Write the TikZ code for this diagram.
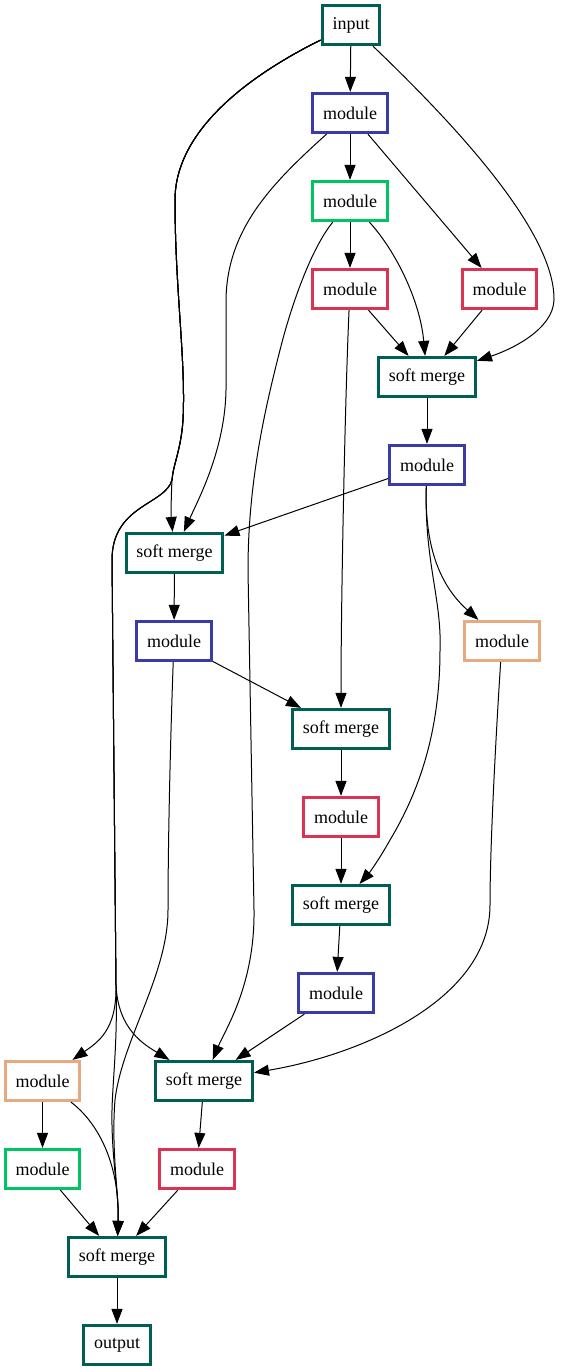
\documentclass[tikz,border=0pt]{standalone}
\usepackage{fontspec}
\setmainfont{Liberation Serif}
\usetikzlibrary{arrows.meta}
\definecolor{cteal}{HTML}{005F52}
\definecolor{cblue}{HTML}{3B3BA8}
\definecolor{cgreen}{HTML}{00C462}
\definecolor{cred}{HTML}{DC3355}
\definecolor{corange}{HTML}{E5AA82}
\begin{document}
\begin{tikzpicture}[x=1pt,y=-1pt,
  box/.style={draw, line width=3.2pt, fill=white, minimum height=39pt, inner xsep=10.3pt, inner ysep=0pt, font=\fontsize{18}{20}\selectfont},
  tealbox/.style={box, draw=cteal},
  bluebox/.style={box, draw=cblue},
  greenbox/.style={box, draw=cgreen},
  redbox/.style={box, draw=cred},
  orangebox/.style={box, draw=corange},
  conn/.style={-{Triangle[length=15pt,width=11pt]}, line width=1pt}]
\useasboundingbox (0,0) rectangle (561,1371);
\node[tealbox] (in) at (351,25) {input};
\node[bluebox] (m1) at (350,113) {module};
\node[greenbox] (m2) at (350,201) {module};
\node[redbox] (m3) at (350,289) {module};
\node[redbox] (m4) at (499.5,289) {module};
\node[tealbox] (s1) at (427,377) {soft merge};
\node[bluebox] (m5) at (427,465) {module};
\node[tealbox] (s2) at (174.5,553) {soft merge};
\node[bluebox] (m6) at (174,641) {module};
\node[orangebox] (m7) at (502,641) {module};
\node[tealbox] (s3) at (341,729) {soft merge};
\node[redbox] (m8) at (341,817) {module};
\node[tealbox] (s4) at (341,905) {soft merge};
\node[bluebox] (m9) at (336,993) {module};
\node[orangebox] (m10) at (42.5,1081) {module};
\node[tealbox] (s5) at (204,1081) {soft merge};
\node[greenbox] (m11) at (42.5,1169) {module};
\node[redbox] (m12) at (197,1169) {module};
\node[tealbox] (s6) at (117,1257) {soft merge};
\node[tealbox] (out) at (117,1345) {output};

\draw[conn] (in) -- (m1);
\draw[conn] (in) .. controls (250,75) and (175,130) .. (175,200) .. controls (175,290) and (186,360) .. (183,420) .. controls (181,450) and (173,465) .. (172,480) .. controls (171,500) and (171,515) .. (s2);
\draw[conn] (in) .. controls (250,75) and (175,130) .. (175,200) .. controls (175,290) and (186,360) .. (183,420) .. controls (181,450) and (173,465) .. (172,480) .. controls (165,505) and (112,505) .. (112,560) -- (116,985) .. controls (117,1030) and (98,1042) .. (m10);
\draw[conn] (in) .. controls (250,75) and (175,130) .. (175,200) .. controls (175,290) and (186,360) .. (183,420) .. controls (181,450) and (173,465) .. (172,480) .. controls (165,505) and (112,505) .. (112,560) -- (116,985) .. controls (118,1030) and (145,1045) .. (s5);
\draw[conn] (in) .. controls (250,75) and (175,130) .. (175,200) .. controls (175,290) and (186,360) .. (183,420) .. controls (181,450) and (173,465) .. (172,480) .. controls (165,505) and (112,505) .. (112,560) -- (116,985) .. controls (118,1050) and (111,1090) .. (112,1125) .. controls (113,1170) and (119,1195) .. (s6);
\draw[conn] (in) .. controls (450,120) and (555,230) .. (554,300) .. controls (553,330) and (510,350) .. (s1);

\draw[conn] (m1) -- (m2);
\draw[conn] (m1) -- (m4);
\draw[conn] (m1) .. controls (270,185) and (227,230) .. (226,300) -- (226,390) .. controls (225,450) and (198,500) .. (s2);

\draw[conn] (m2) -- (m3);
\draw[conn] (m2) .. controls (395,250) and (420,300) .. (s1);
\draw[conn] (m2) .. controls (310,250) and (290,310) .. (280,350) .. controls (266,405) and (248,480) .. (248,570) -- (254,910) .. controls (255,985) and (225,1030) .. (s5);

\draw[conn] (m3) -- (s1);
\draw[conn] (m3) .. controls (345,400) and (341,600) .. (s3);
\draw[conn] (m4) -- (s1);

\draw[conn] (s1) -- (m5);
\draw[conn] (m5) -- (s2);
\draw[conn] (m5) .. controls (424,555) and (445,590) .. (m7);
\draw[conn] (m5) .. controls (424,560) and (442,600) .. (440,650) .. controls (440,730) and (420,790) .. (390,840) .. controls (380,858) and (370,872) .. (s4);

\draw[conn] (s2) -- (m6);
\draw[conn] (m6) -- (s3);
\draw[conn] (m6) .. controls (170,750) and (168,850) .. (168,910) .. controls (168,975) and (122,1040) .. (115,1100) .. controls (111,1150) and (119,1195) .. (s6);
\draw[conn] (m7) .. controls (495,750) and (490,850) .. (490,905) .. controls (490,1000) and (360,1055) .. (s5);

\draw[conn] (s3) -- (m8);
\draw[conn] (m8) -- (s4);
\draw[conn] (s4) -- (m9);
\draw[conn] (m9) -- (s5);

\draw[conn] (m10) -- (m11);
\draw[conn] (m10) .. controls (95,1120) and (120,1160) .. (s6);
\draw[conn] (m11) -- (s6);
\draw[conn] (s5) -- (m12);
\draw[conn] (m12) -- (s6);
\draw[conn] (s6) -- (out);
\end{tikzpicture}
\end{document}
